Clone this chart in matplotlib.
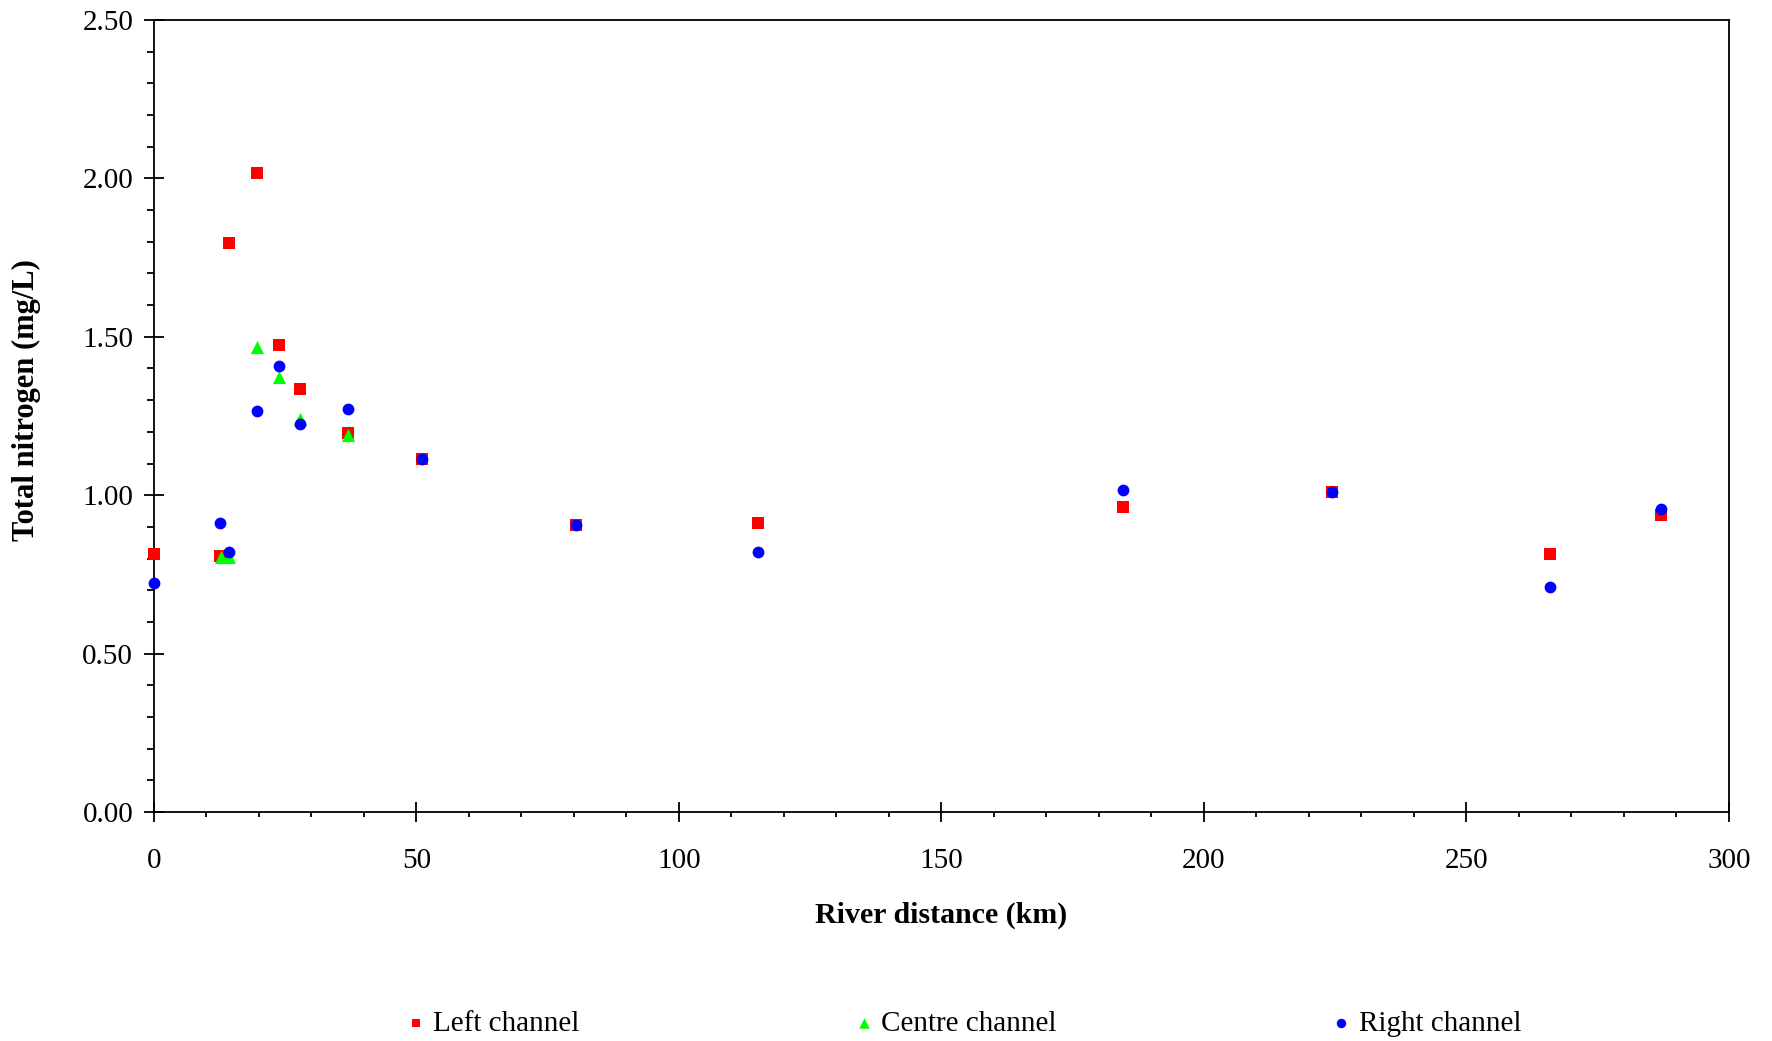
import matplotlib.pyplot as plt
from matplotlib.ticker import MultipleLocator, FormatStrFormatter

plt.rcParams['font.family'] = ['Liberation Serif', 'DejaVu Serif']

# River distance (km) of each sampling site
left_km = [0, 12.6, 14.2, 19.7, 23.8, 27.8, 37.0, 51.0, 80.4, 115.1, 184.6, 224.4, 266.0, 287.0]
left_tn = [0.814, 0.808, 1.797, 2.016, 1.474, 1.334, 1.195, 1.113, 0.906, 0.913, 0.962, 1.010, 0.814, 0.938]

centre_km = [12.8, 14.3, 19.7, 23.9, 27.9, 37.0]
centre_tn = [0.805, 0.805, 1.469, 1.374, 1.239, 1.190]

right_km = [0, 12.6, 14.2, 19.7, 23.8, 27.8, 37.0, 51.0, 80.4, 115.1, 184.6, 224.4, 266.0, 287.0]
right_tn = [0.724, 0.913, 0.822, 1.267, 1.408, 1.225, 1.273, 1.114, 0.906, 0.822, 1.016, 1.010, 0.711, 0.955]

fig = plt.figure(figsize=(17.72, 10.41), dpi=100)
ax = fig.add_axes([0.0869, 0.2200, 0.8888, 0.7608])

ax.scatter(left_km, left_tn, marker='s', s=64, color='#ff0000', linewidths=0,
           label='Left channel', clip_on=False, zorder=3)
ax.scatter(centre_km, centre_tn, marker='^', s=90, color='#00ff00', linewidths=0,
           label='Centre channel', clip_on=False, zorder=4)
ax.scatter(right_km, right_tn, marker='o', s=72, color='#0000ff', linewidths=0,
           label='Right channel', clip_on=False, zorder=5)

ax.set_xlim(0, 300)
ax.set_ylim(0, 2.5)
ax.xaxis.set_major_locator(MultipleLocator(50))
ax.xaxis.set_minor_locator(MultipleLocator(10))
ax.yaxis.set_major_locator(MultipleLocator(0.5))
ax.yaxis.set_minor_locator(MultipleLocator(0.1))
ax.yaxis.set_major_formatter(FormatStrFormatter('%.2f'))

for s in ax.spines.values():
    s.set_linewidth(1.3)

ax.tick_params(which='major', direction='inout', length=14, width=1.3, labelsize=21)
ax.tick_params(axis='x', which='major', pad=19)
ax.tick_params(axis='y', which='major', pad=8)
ax.tick_params(axis='y', which='minor', direction='out', length=5, width=1.3)
ax.tick_params(axis='x', which='minor', direction='out', length=3.5, width=1.3)

ax.set_xlabel('River distance (km)', fontsize=21.5, fontweight='bold')
ax.set_ylabel('Total nitrogen (mg/L)', fontsize=22, fontweight='bold')
ax.xaxis.set_label_coords(0.5, -0.113)
ax.yaxis.set_label_coords(-0.072, 0.52)

fig.legend(loc='center', bbox_to_anchor=(0.544, 0.017), ncol=3, frameon=False,
           fontsize=21, markerscale=0.8, handlelength=0.6, handletextpad=0.3,
           columnspacing=9.45)

fig.savefig('out.png', dpi=100)
